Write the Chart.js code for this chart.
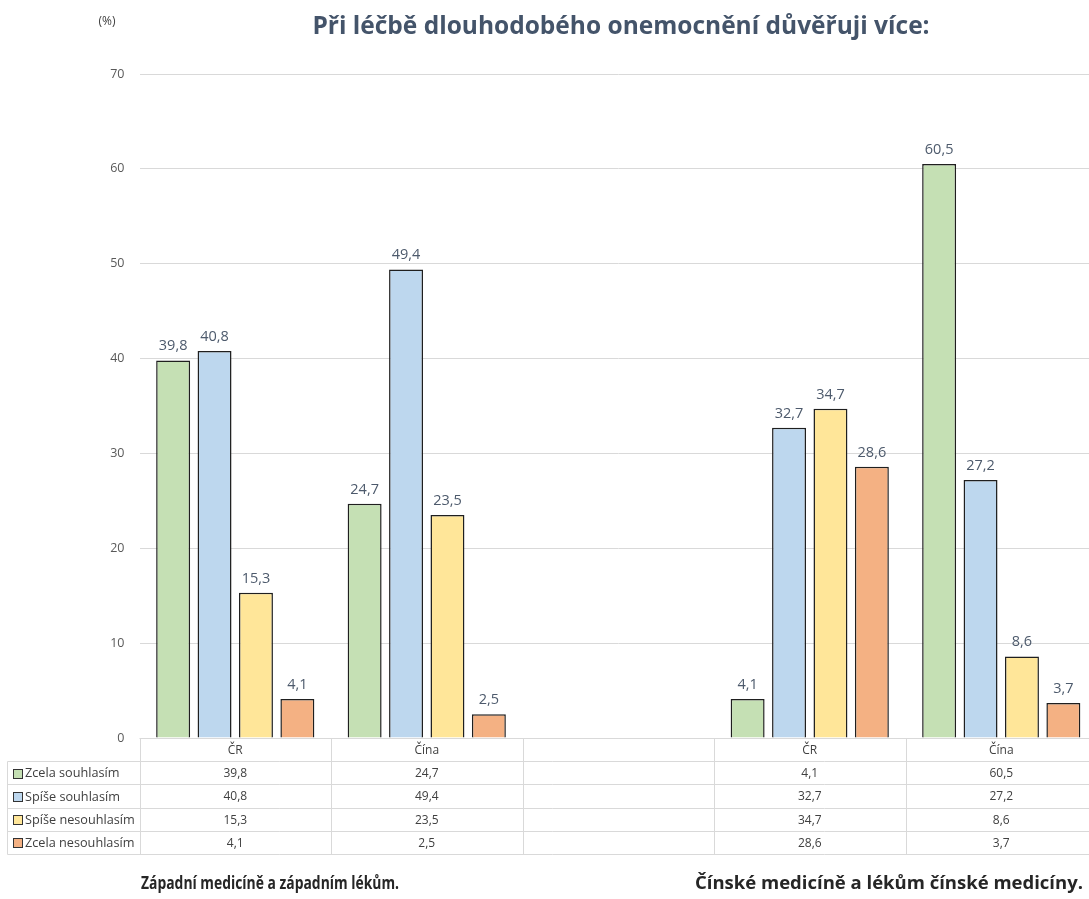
<!DOCTYPE html>
<html lang="cs">
<head>
<meta charset="utf-8">
<title>Při léčbě dlouhodobého onemocnění důvěřuji více</title>
<script src="https://cdn.jsdelivr.net/npm/chart.js@4/dist/chart.umd.min.js"></script>
<style>
  html, body { margin: 0; padding: 0; background: #ffffff; overflow: hidden; }
  #wrap { position: relative; width: 1100px; height: 899px; }
</style>
</head>
<body>
<div id="wrap"><canvas id="chart"></canvas></div>
<script>
// Categories (the empty middle column separates the two question blocks)
const categories = ['ČR', 'Čína', '', 'ČR', 'Čína'];

// Answer shares in percent
const zcelaSouhlasim    = [39.8, 24.7, null, 4.1, 60.5];
const spiseSouhlasim    = [40.8, 49.4, null, 32.7, 27.2];
const spiseNesouhlasim  = [15.3, 23.5, null, 34.7, 8.6];
const zcelaNesouhlasim  = [4.1, 2.5, null, 28.6, 3.7];

const seriesNames = ['Zcela souhlasím', 'Spíše souhlasím', 'Spíše nesouhlasím', 'Zcela nesouhlasím'];
const seriesColors = ['#c5e0b4', '#bdd7ee', '#ffe699', '#f4b183'];

const yTicks = [0, 10, 20, 30, 40, 50, 60, 70];

const chartTitle = 'Při léčbě dlouhodobého onemocnění důvěřuji více:';
const unitLabel = '(%)';
const groupCaptions = ['Západní medicíně a západním lékům.', 'Čínské medicíně a lékům čínské medicíny.'];

const fmt = v => String(v).replace('.', ',');

const TEXT_DARK = '#44546a';
const GRID = '#d9d9d9';

// Draws title, unit, value labels, the data table and group captions
const decorations = {
  id: 'decorations',
  afterDatasetsDraw(chart) {
    const ctx = chart.ctx;
    ctx.save();

    // value labels above bars
    ctx.font = '14.5px "Open Sans", sans-serif';
    ctx.fillStyle = '#4d5a6c';
    ctx.textAlign = 'center';
    ctx.textBaseline = 'alphabetic';
    chart.data.datasets.forEach((ds, di) => {
      const meta = chart.getDatasetMeta(di);
      meta.data.forEach((bar, i) => {
        const v = ds.data[i];
        if (v === null || v === undefined) return;
        ctx.fillText(fmt(v), bar.x, bar.y - 10);
      });
    });
    ctx.restore();
  },
  afterDraw(chart) {
    const ctx = chart.ctx;
    const area = chart.chartArea;
    const xs = chart.scales.x;
    const n = categories.length;
    const colW = (area.right - area.left) / n;
    ctx.save();

    // title
    ctx.font = 'bold 24.5px "Open Sans", sans-serif';
    ctx.fillStyle = TEXT_DARK;
    ctx.textAlign = 'center';
    ctx.textBaseline = 'middle';
    ctx.fillText(chartTitle, 621, 27);

    // unit
    ctx.font = '12px "Open Sans", sans-serif';
    ctx.fillStyle = '#404040';
    ctx.fillText(unitLabel, 107, 22);

    // data table
    const top = area.bottom;
    const rowH = 23.2;
    const rows = seriesNames.length;
    const tableLeft = 7.5;
    const bottom = top + rowH * (rows + 1);
    ctx.strokeStyle = GRID;
    ctx.lineWidth = 1;
    ctx.beginPath();
    // header top (over the data columns)
    ctx.moveTo(area.left, top + 0.5); ctx.lineTo(area.right, top + 0.5);
    // row lines
    for (let r = 1; r <= rows + 1; r++) {
      const y = Math.round(top + rowH * r) + 0.5;
      ctx.moveTo(tableLeft, y); ctx.lineTo(area.right, y);
    }
    // label column left edge
    ctx.moveTo(tableLeft, Math.round(top + rowH) + 0.5);
    ctx.lineTo(tableLeft, Math.round(bottom) + 0.5);
    // column boundaries
    for (let c = 0; c <= n; c++) {
      const x = Math.round(xs.getPixelForValue(c) - colW / 2) + 0.5;
      ctx.moveTo(x, top); ctx.lineTo(x, Math.round(bottom) + 0.5);
    }
    ctx.stroke();

    ctx.font = '12px "Open Sans", sans-serif';
    ctx.fillStyle = '#404040';
    ctx.textAlign = 'center';
    ctx.textBaseline = 'middle';
    categories.forEach((c, i) => {
      ctx.fillText(c, xs.getPixelForValue(i), top + rowH / 2 + 1);
    });
    chart.data.datasets.forEach((ds, di) => {
      const cy = top + rowH * (di + 1) + rowH / 2 + 1;
      ds.data.forEach((v, i) => {
        if (v === null || v === undefined) return;
        ctx.fillText(fmt(v), xs.getPixelForValue(i), cy);
      });
      // legend key
      const ky = Math.round(cy - 5) + 0.5;
      ctx.fillStyle = seriesColors[di];
      ctx.fillRect(13.5, ky, 9, 9);
      ctx.strokeStyle = '#333333';
      ctx.strokeRect(13.5, ky, 9, 9);
      ctx.fillStyle = '#404040';
      ctx.textAlign = 'left';
      ctx.font = '12.7px "Open Sans", sans-serif';
      ctx.fillText(seriesNames[di], 25, cy);
      ctx.font = '12px "Open Sans", sans-serif';
      ctx.textAlign = 'center';
    });

    // group captions
    ctx.fillStyle = '#262626';
    ctx.textAlign = 'center';
    ctx.textBaseline = 'middle';
    ctx.font = 'bold 17px "Open Sans", sans-serif';
    ctx.fillText(groupCaptions[0], 270, 884, 258);
    ctx.font = 'bold 18.5px "Open Sans", sans-serif';
    ctx.fillText(groupCaptions[1], 889, 884, 390);
    ctx.restore();
  }
};

const datasets = [zcelaSouhlasim, spiseSouhlasim, spiseNesouhlasim, zcelaNesouhlasim].map((d, i) => ({
  label: seriesNames[i],
  data: d,
  backgroundColor: seriesColors[i],
  borderColor: '#1f1f1f',
  borderWidth: 1.5,
  borderSkipped: 'bottom',
  barPercentage: 0.82,
  categoryPercentage: 0.865
}));

new Chart(document.getElementById('chart'), {
  type: 'bar',
  data: { labels: categories, datasets },
  options: {
    responsive: true,
    maintainAspectRatio: false,
    animation: false,
    layout: { padding: { top: 74, right: 3, left: 0, bottom: 0 } },
    plugins: {
      legend: { display: false },
      title: { display: false },
      tooltip: { enabled: false }
    },
    scales: {
      x: {
        grid: { display: false },
        border: { display: false },
        ticks: { display: false },
        afterFit(scale) { scale.height = 161; }
      },
      y: {
        min: 0,
        max: 70,
        afterBuildTicks(scale) { scale.ticks = yTicks.map(v => ({ value: v })); },
        afterFit(scale) { scale.width = 139.5; },
        grid: { color: GRID, drawTicks: false, lineWidth: 1 },
        border: { display: false },
        ticks: {
          padding: 15,
          color: '#595959',
          font: { family: '"Open Sans", sans-serif', size: 12.5 }
        }
      }
    }
  },
  plugins: [decorations]
});
</script>
</body>
</html>
